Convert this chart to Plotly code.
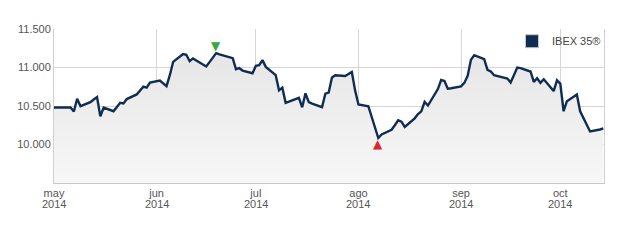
import plotly.graph_objects as go

dates = [
    "2014-05-01", "2014-05-02", "2014-05-05", "2014-05-06", "2014-05-07", "2014-05-08", "2014-05-09",
    "2014-05-12", "2014-05-13", "2014-05-14", "2014-05-15", "2014-05-16",
    "2014-05-19", "2014-05-20", "2014-05-21", "2014-05-22", "2014-05-23",
    "2014-05-26", "2014-05-27", "2014-05-28", "2014-05-29", "2014-05-30",
    "2014-06-02", "2014-06-03", "2014-06-04", "2014-06-05", "2014-06-06",
    "2014-06-09", "2014-06-10", "2014-06-11", "2014-06-12", "2014-06-13",
    "2014-06-16", "2014-06-17", "2014-06-18", "2014-06-19", "2014-06-20",
    "2014-06-23", "2014-06-24", "2014-06-25", "2014-06-26", "2014-06-27",
    "2014-06-30", "2014-07-01", "2014-07-02", "2014-07-03", "2014-07-04",
    "2014-07-07", "2014-07-08", "2014-07-09", "2014-07-10", "2014-07-11",
    "2014-07-14", "2014-07-15", "2014-07-16", "2014-07-17", "2014-07-18",
    "2014-07-21", "2014-07-22", "2014-07-23", "2014-07-24", "2014-07-25",
    "2014-07-28", "2014-07-29", "2014-07-30", "2014-07-31", "2014-08-01",
    "2014-08-04", "2014-08-05", "2014-08-06", "2014-08-07", "2014-08-08",
    "2014-08-11", "2014-08-12", "2014-08-13", "2014-08-14", "2014-08-15",
    "2014-08-18", "2014-08-19", "2014-08-20", "2014-08-21", "2014-08-22",
    "2014-08-25", "2014-08-26", "2014-08-27", "2014-08-28", "2014-08-29",
    "2014-09-01", "2014-09-02", "2014-09-03", "2014-09-04", "2014-09-05",
    "2014-09-08", "2014-09-09", "2014-09-10", "2014-09-11", "2014-09-12",
    "2014-09-15", "2014-09-16", "2014-09-17", "2014-09-18", "2014-09-19",
    "2014-09-22", "2014-09-23", "2014-09-24", "2014-09-25", "2014-09-26",
    "2014-09-29", "2014-09-30", "2014-10-01", "2014-10-02", "2014-10-03",
    "2014-10-06", "2014-10-07", "2014-10-08", "2014-10-09", "2014-10-10",
    "2014-10-13", "2014-10-14",
]
ibex = [
    10480, 10482, 10484, 10480, 10428, 10594, 10497,
    10550, 10585, 10615, 10366, 10480,
    10432, 10480, 10542, 10533, 10590,
    10650, 10703, 10751, 10738, 10804,
    10830, 10800, 10759, 10900, 11073,
    11174, 11165, 11082, 11118, 11090,
    11013, 11070, 11130, 11187, 11170,
    11140, 11122, 10978, 10991, 10960,
    10925, 11021, 11030, 11096, 11008,
    10900, 10703, 10738, 10542, 10558,
    10607, 10484, 10664, 10550, 10530,
    10484, 10660, 10673, 10869, 10899,
    10890, 10915, 10942, 10700, 10520,
    10497, 10360, 10210, 10084, 10130,
    10192, 10250, 10314, 10297, 10228,
    10340, 10395, 10430, 10555, 10506,
    10720, 10838, 10825, 10725, 10730,
    10755, 10800, 10890, 11100, 11161,
    11109, 10969, 10948, 10899, 10890,
    10856, 10804, 10900, 11000, 10991,
    10948, 10812, 10860, 10800, 10847,
    10694, 10834, 10791, 10432, 10563,
    10650, 10432, 10345, 10250, 10170,
    10195, 10210,
]

month_ticks = ["2014-05-01", "2014-06-01", "2014-07-01", "2014-08-01", "2014-09-01", "2014-10-01"]
month_labels = ["may", "jun", "jul", "ago", "sep", "oct"]
year_labels = ["2014", "2014", "2014", "2014", "2014", "2014"]
y_ticks = [10000, 10500, 11000, 11500]
y_labels = ["10.000", "10.500", "11.000", "11.500"]
series_name = "IBEX 35®"

LINE = "#0f2d52"
GRID = "#d6d6d6"
TXT = "#555555"

fig = go.Figure()
fig.add_trace(go.Scatter(
    x=dates, y=ibex, mode="lines", showlegend=False,
    line=dict(color=LINE, width=2.4),
    fill="tozeroy",
    fillgradient=dict(type="vertical", start=9500, stop=11200,
                      colorscale=[[0, "#f7f7f7"], [1, "#e6e6e6"]]),
    hoverinfo="skip",
))
# legend swatch
fig.add_trace(go.Scatter(
    x=[None], y=[None], mode="markers", name=series_name,
    marker=dict(symbol="square", size=13, color=LINE, line=dict(color="#c8c8c8", width=1)),
))

imax = ibex.index(max(ibex))
imin = ibex.index(min(ibex))
fig.add_annotation(x=dates[imax], y=ibex[imax], text="▼", showarrow=False,
                   yshift=7, font=dict(color="#3aa83a", size=12, family="DejaVu Sans"))
fig.add_annotation(x=dates[imin], y=ibex[imin], text="▲", showarrow=False,
                   yshift=-6, font=dict(color="#d8262b", size=12, family="DejaVu Sans"))

for d, yl in zip(month_ticks, year_labels):
    fig.add_annotation(x=d, y=0, xref="x", yref="paper", text=yl, showarrow=False,
                       yanchor="middle", yshift=-21, font=dict(size=11, color=TXT))

fig.update_layout(
    width=628, height=250,
    margin=dict(l=54, r=24, t=29, b=67),
    paper_bgcolor="white", plot_bgcolor="white",
    font=dict(family="Liberation Sans, Arial, sans-serif", size=11, color=TXT),
    legend=dict(x=0.8327, xanchor="left", y=1.015, yanchor="top", bgcolor="rgba(0,0,0,0)",
                font=dict(size=11, color="#444444"), itemwidth=30),
)
fig.update_xaxes(
    type="date", range=["2014-05-01", "2014-10-14 05:00"],
    tickvals=month_ticks, ticktext=month_labels,
    showgrid=True, gridcolor=GRID, gridwidth=1,
    showline=True, linecolor="#c8c8c8", linewidth=1,
    ticks="", zeroline=False,
)
fig.update_yaxes(
    range=[9500, 11500], tickvals=y_ticks, ticktext=y_labels,
    showgrid=True, gridcolor=GRID, gridwidth=1,
    showline=True, mirror=True, linecolor="#d0d0d0", linewidth=1,
    ticks="", zeroline=False,
)

fig.write_html("out.html")
